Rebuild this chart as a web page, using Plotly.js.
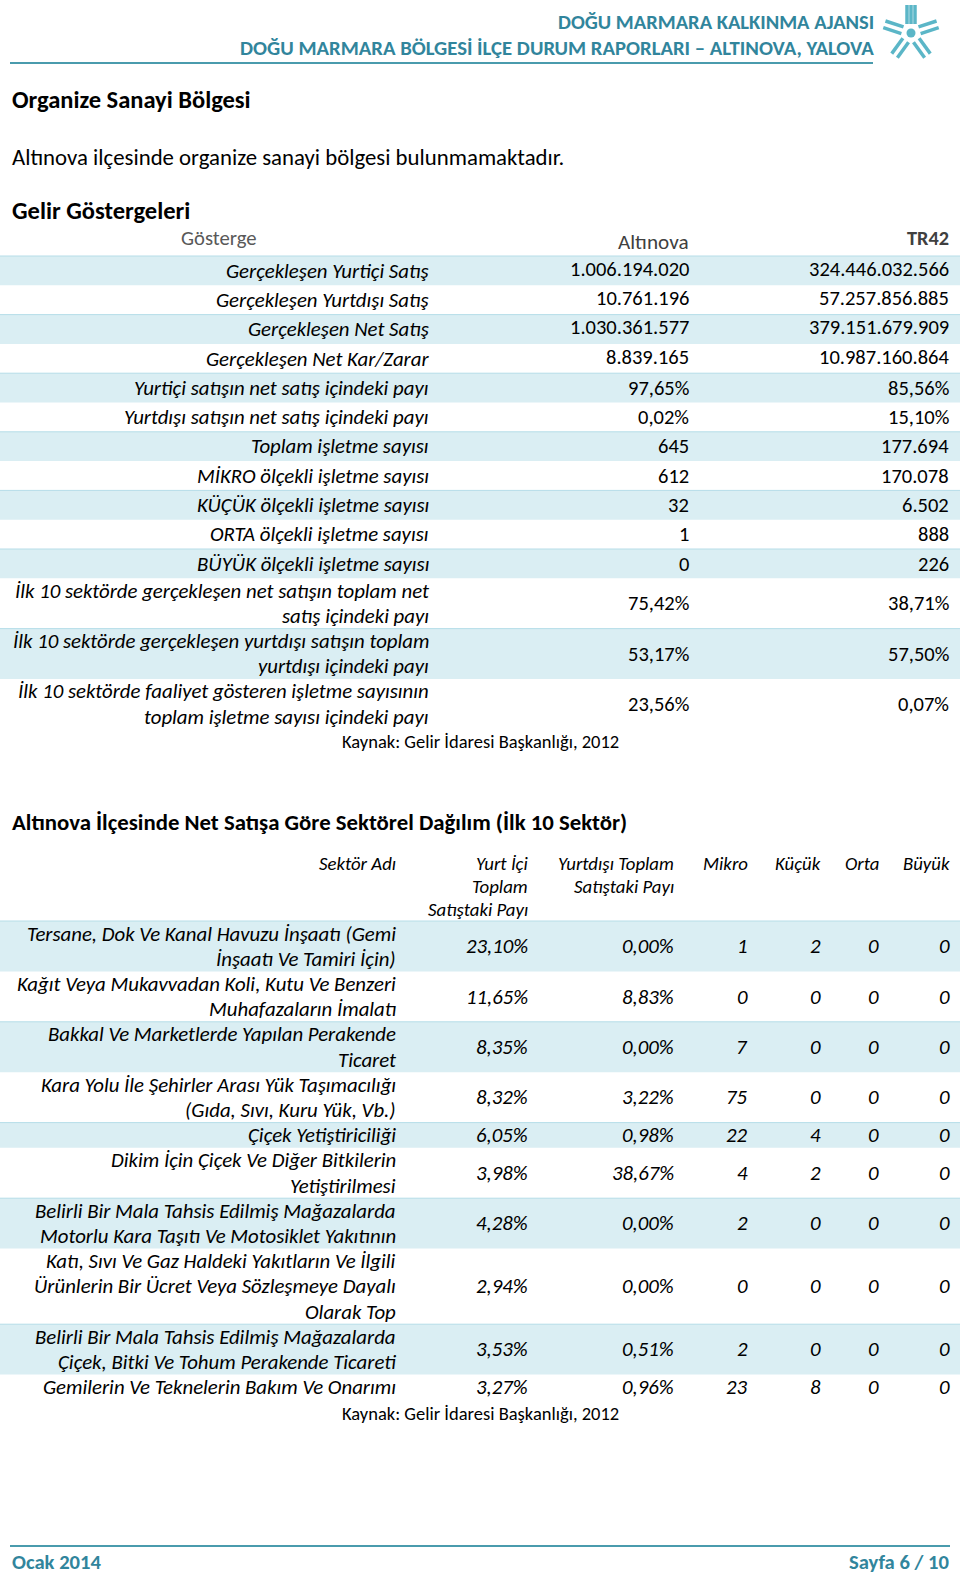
<!DOCTYPE html>
<html>
<head>
<meta charset="utf-8">
<script src="https://cdn.plot.ly/plotly-3.0.1.min.js"></script>
<style>
  body { margin: 0; background: #fff; }
  #page { width: 960px; height: 1578px; }
</style>
</head>
<body>
<div id="page"></div>
<script>
  // Gelir Göstergeleri table
  var gostergeLabels = [
      "Gerçekleşen Yurtiçi Satış",
      "Gerçekleşen Yurtdışı Satış",
      "Gerçekleşen Net Satış",
      "Gerçekleşen Net Kar/Zarar",
      "Yurtiçi satışın net satış içindeki payı",
      "Yurtdışı satışın net satış içindeki payı",
      "Toplam işletme sayısı",
      "MİKRO ölçekli işletme sayısı",
      "KÜÇÜK ölçekli işletme sayısı",
      "ORTA ölçekli işletme sayısı",
      "BÜYÜK ölçekli işletme sayısı",
      "İlk 10 sektörde gerçekleşen net satışın toplam net<br>satış içindeki payı",
      "İlk 10 sektörde gerçekleşen yurtdışı satışın toplam<br>yurtdışı içindeki payı",
      "İlk 10 sektörde faaliyet gösteren işletme sayısının<br>toplam işletme sayısı içindeki payı"
  ];
  // "n" = count/amount, "p" = percentage
  var gostergeTypes = ["n", "n", "n", "n", "p", "p", "n", "n", "n", "n", "n", "p", "p", "p"];
  var altinovaValues = [1006194020, 10761196, 1030361577, 8839165, 97.65, 0.02, 645, 612, 32, 1, 0, 75.42, 53.17, 23.56];
  var tr42Values = [324446032566, 57257856885, 379151679909, 10987160864, 85.56, 15.10, 177694, 170078, 6502, 888, 226, 38.71, 57.50, 0.07];

  // Sektörel dağılım table
  var sektorAdlari = [
      "Tersane, Dok Ve Kanal Havuzu İnşaatı (Gemi<br>İnşaatı Ve Tamiri İçin)",
      "Kağıt Veya Mukavvadan Koli, Kutu Ve Benzeri<br>Muhafazaların İmalatı",
      "Bakkal Ve Marketlerde Yapılan Perakende<br>Ticaret",
      "Kara Yolu İle Şehirler Arası Yük Taşımacılığı<br>(Gıda, Sıvı, Kuru Yük, Vb.)",
      "Çiçek Yetiştiriciliği",
      "Dikim İçin Çiçek Ve Diğer Bitkilerin<br>Yetiştirilmesi",
      "Belirli Bir Mala Tahsis Edilmiş Mağazalarda<br>Motorlu Kara Taşıtı Ve Motosiklet Yakıtının",
      "Katı, Sıvı Ve Gaz Haldeki Yakıtların Ve İlgili<br>Ürünlerin Bir Ücret Veya Sözleşmeye Dayalı<br>Olarak Top",
      "Belirli Bir Mala Tahsis Edilmiş Mağazalarda<br>Çiçek, Bitki Ve Tohum Perakende Ticareti",
      "Gemilerin Ve Teknelerin Bakım Ve Onarımı"
  ];
  var yurtIciPay = [23.10, 11.65, 8.35, 8.32, 6.05, 3.98, 4.28, 2.94, 3.53, 3.27];
  var yurtDisiPay = [0.00, 8.83, 0.00, 3.22, 0.98, 38.67, 0.00, 0.00, 0.51, 0.96];
  var mikro = [1, 0, 7, 75, 22, 4, 2, 0, 2, 23];
  var kucuk = [2, 0, 0, 0, 4, 2, 0, 0, 0, 8];
  var orta = [0, 0, 0, 0, 0, 0, 0, 0, 0, 0];
  var buyuk = [0, 0, 0, 0, 0, 0, 0, 0, 0, 0];
  var sektorHeaders = ["Sektör Adı", "Yurt İçi<br>Toplam<br>Satıştaki Payı", "Yurtdışı Toplam<br>Satıştaki Payı", "Mikro", "Küçük", "Orta", "Büyük"];

  var FONT = "Carlito, Lato, 'Open Sans', sans-serif";
  var TEAL = "#31859c";
  var BAND = "#daeef3";
  var BAND_LINE = "#b6dde8";

  var annotations = [];
  var shapes = [];

  function fmtNumber(v) {
      return String(v).replace(/\B(?=(\d{3})+(?!\d))/g, ".");
  }
  function fmtPct(v) {
      return v.toFixed(2).replace(".", ",") + "%";
  }

  function txt(x, y, s, anchor, size, color, style) {
      var t = s;
      if (style == "i") t = "<i>" + s + "</i>";
      if (style == "b") t = "<b>" + s + "</b>";
      // annotation boxes have a little padding, pull them back to the edge
      var dx = anchor == "right" ? 2.5 : (anchor == "left" ? -2 : 0);
      annotations.push({
          x: x + dx, y: y, xref: "x", yref: "y",
          text: t, showarrow: false,
          xanchor: anchor, yanchor: "middle",
          font: {family: FONT, size: size, color: color || "#000"}
      });
  }

  // multi-line text, one annotation per line so the spacing is exact
  function lines(x, yCenter, s, anchor, size, color, style, lh) {
      var parts = s.split("<br>");
      var y0 = yCenter - (parts.length - 1) * lh / 2;
      for (var i = 0; i < parts.length; i += 1) {
          txt(x, y0 + i * lh, parts[i], anchor, size, color, style);
      }
  }

  function band(y0, y1) {
      shapes.push({type: "rect", xref: "x", yref: "y", x0: 0, x1: 960, y0: y0, y1: y1,
          fillcolor: BAND, line: {width: 0}, layer: "below"});
      shapes.push({type: "line", xref: "x", yref: "y", x0: 0, x1: 960, y0: y0, y1: y0,
          line: {color: BAND_LINE, width: 1}, layer: "below"});
  }

  // ---------- page header ----------
  txt(873, 22, "DOĞU MARMARA KALKINMA AJANSI", "right", 20.5, TEAL, "b");
  txt(873, 48, "DOĞU MARMARA BÖLGESİ İLÇE DURUM RAPORLARI – ALTINOVA, YALOVA", "right", 20.7, TEAL, "b");
  shapes.push({type: "line", xref: "x", yref: "y", x0: 10, x1: 873, y0: 63, y1: 63,
      line: {color: "#4a9bad", width: 2}});

  // logo: five little figures round a dot
  var cx = 911, cy = 33;
  for (var k = 0; k < 5; k += 1) {
      var a = (-90 + k * 72) * Math.PI / 180;
      var px = -Math.sin(a), py = Math.cos(a);
      var offs = k == 0 ? [-4, 0, 4] : [-3.5, 3.5];
      for (var j = 0; j < offs.length; j += 1) {
          var o = offs[j];
          shapes.push({type: "line", xref: "x", yref: "y",
              x0: cx + Math.cos(a) * 9 + px * o, y0: cy + Math.sin(a) * 9 + py * o,
              x1: cx + Math.cos(a) * 28 + px * o, y1: cy + Math.sin(a) * 28 + py * o,
              line: {color: "#5bb6c7", width: 3.5}});
      }
  }
  shapes.push({type: "circle", xref: "x", yref: "y", x0: cx - 4.5, x1: cx + 4.5, y0: cy - 4.5, y1: cy + 4.5,
      fillcolor: "#5bb6c7", line: {width: 0}});

  // ---------- text block ----------
  txt(12, 100, "Organize Sanayi Bölgesi", "left", 24.5, "#000", "b");
  txt(12, 157, "Altınova ilçesinde organize sanayi bölgesi bulunmamaktadır.", "left", 22.8, "#000");
  txt(12, 211, "Gelir Göstergeleri", "left", 24.5, "#000", "b");

  // ---------- table 1 ----------
  txt(219, 238, "Gösterge", "center", 20.7, "#595959");
  txt(688, 242, "Altınova", "right", 21.2, "#404040");
  txt(948, 238, "TR42", "right", 20.3, "#404040", "b");

  var y = 256;
  for (var i = 0; i < gostergeLabels.length; i += 1) {
      var nl = gostergeLabels[i].split("<br>").length;
      var h = nl == 1 ? 29.3 : nl * 25.15;
      if (i % 2 == 0) band(y, y + h);
      var yc = y + h / 2;
      lines(428, yc, gostergeLabels[i], "right", 20.8, "#000", "i", 25.15);
      var fmt = gostergeTypes[i] == "p" ? fmtPct : fmtNumber;
      var dy = i < 4 ? -2 : 0;
      txt(688, yc + dy, fmt(altinovaValues[i]), "right", 20.5, "#000");
      txt(948, yc + dy, fmt(tr42Values[i]), "right", 20.5, "#000");
      y += h;
  }
  txt(480, 741, "Kaynak: Gelir İdaresi Başkanlığı, 2012", "center", 18.5, "#000");

  // ---------- table 2 ----------
  txt(12, 822, "Altınova İlçesinde Net Satışa Göre Sektörel Dağılım (İlk 10 Sektör)", "left", 22.8, "#000", "b");

  var colX = [395, 527, 673, 747, 820, 878, 949];
  for (var c = 0; c < sektorHeaders.length; c += 1) {
      var hp = sektorHeaders[c].split("<br>");
      for (var j = 0; j < hp.length; j += 1) {
          txt(colX[c], 863 + j * 23, hp[j], "right", 18.8, "#000", "i");
      }
  }

  var LH = 25.2;
  y = 921;
  for (var i = 0; i < sektorAdlari.length; i += 1) {
      var nl = sektorAdlari[i].split("<br>").length;
      var h = nl * LH;
      if (i % 2 == 0) band(y, y + h);
      var yc = y + h / 2;
      lines(colX[0], yc, sektorAdlari[i], "right", 20.8, "#000", "i", LH);
      txt(colX[1], yc, fmtPct(yurtIciPay[i]), "right", 20.8, "#000", "i");
      txt(colX[2], yc, fmtPct(yurtDisiPay[i]), "right", 20.8, "#000", "i");
      txt(colX[3], yc, String(mikro[i]), "right", 20.8, "#000", "i");
      txt(colX[4], yc, String(kucuk[i]), "right", 20.8, "#000", "i");
      txt(colX[5], yc, String(orta[i]), "right", 20.8, "#000", "i");
      txt(colX[6], yc, String(buyuk[i]), "right", 20.8, "#000", "i");
      y += h;
  }
  txt(480, 1413, "Kaynak: Gelir İdaresi Başkanlığı, 2012", "center", 18.5, "#000");

  // ---------- footer ----------
  shapes.push({type: "line", xref: "x", yref: "y", x0: 10, x1: 950, y0: 1546, y1: 1546,
      line: {color: "#4a9bad", width: 2}});
  txt(12, 1562, "Ocak 2014", "left", 20.6, TEAL, "b");
  txt(948, 1562, "Sayfa 6 / 10", "right", 20.6, TEAL, "b");

  var layout = {
      width: 960,
      height: 1578,
      margin: {l: 0, r: 0, t: 0, b: 0},
      paper_bgcolor: "#fff",
      plot_bgcolor: "#fff",
      showlegend: false,
      xaxis: {range: [0, 960], visible: false, fixedrange: true},
      yaxis: {range: [1578, 0], visible: false, fixedrange: true},
      annotations: annotations,
      shapes: shapes
  };

  Plotly.newPlot("page", [], layout, {staticPlot: true});
</script>
</body>
</html>
